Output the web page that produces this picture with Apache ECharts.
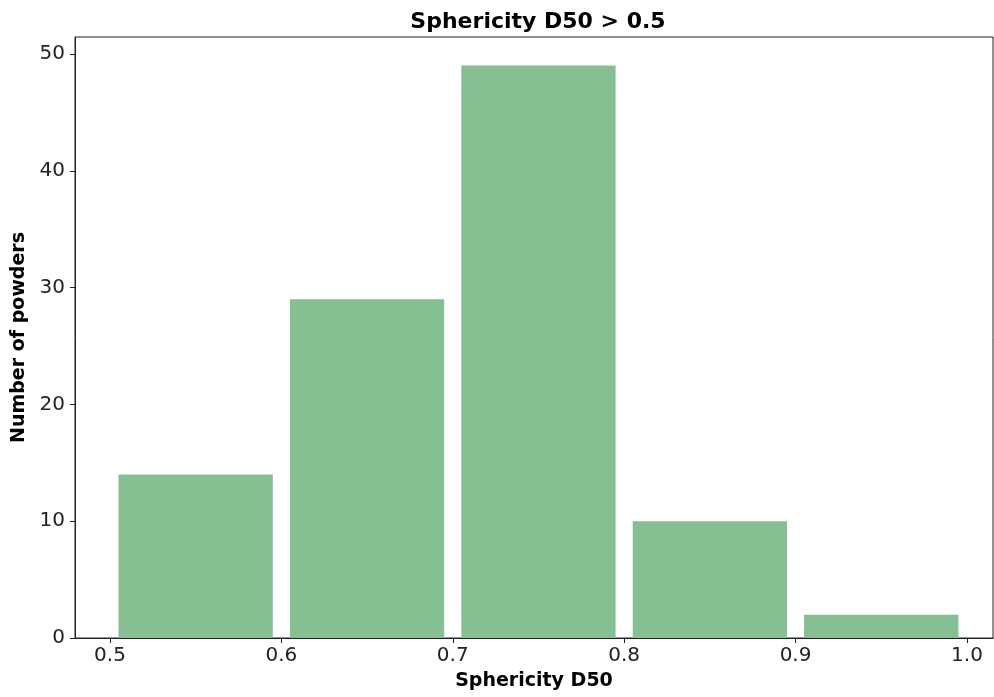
<!DOCTYPE html>
<html>
<head>
<meta charset="utf-8">
<script src="https://cdn.jsdelivr.net/npm/echarts@6/dist/echarts.min.js"></script>
<style>
  html, body { margin: 0; padding: 0; background: #fff; }
  #chart { width: 994px; height: 697px; }
</style>
</head>
<body>
<div id="chart"></div>
<script>
// Histogram of sphericity D50 (bins of width 0.1), counts per bin
const binStarts = [0.5, 0.6, 0.7, 0.8, 0.9];
const binWidth = 0.1;
const counts = [14, 29, 49, 10, 2];
const xTicks = [0.5, 0.6, 0.7, 0.8, 0.9, 1.0];
const yTicks = [0, 10, 20, 30, 40, 50];
const relWidth = 0.9;

const font = 'DejaVu Sans, sans-serif';
const barColor = '#86bf91';

const chart = echarts.init(document.getElementById('chart'));

const data = binStarts.map((s, i) => [s, s + binWidth, counts[i]]);

chart.setOption({
  animation: false,
  backgroundColor: '#fff',
  title: {
    text: 'Sphericity D50 > 0.5',
    left: 533,
    textAlign: 'center',
    top: 6,
    textStyle: { fontFamily: font, fontWeight: 'bold', fontSize: 22, color: '#000' }
  },
  grid: {
    left: 75, right: 1, top: 37, bottom: 59,
    show: true, borderColor: '#222', borderWidth: 1, backgroundColor: 'transparent'
  },
  xAxis: {
    type: 'value',
    min: 0.4796,
    max: 1.0152,
    name: 'Sphericity D50',
    nameLocation: 'middle',
    nameGap: 34,
    nameTextStyle: { fontFamily: font, fontWeight: 'bold', fontSize: 19, color: '#000' },
    splitLine: { show: false },
    axisLine: { show: true, lineStyle: { color: '#222', width: 1 } },
    axisTick: { show: true, length: 5, lineStyle: { color: '#222' }, customValues: xTicks },
    axisLabel: {
      customValues: xTicks,
      formatter: v => v.toFixed(1),
      fontFamily: font, fontSize: 20, color: '#222', margin: 8
    }
  },
  yAxis: {
    type: 'value',
    min: 0,
    max: 51.45,
    name: 'Number of powders',
    nameLocation: 'middle',
    nameGap: 43,
    nameTextStyle: { fontFamily: font, fontWeight: 'bold', fontSize: 19, color: '#000' },
    splitLine: { show: false },
    axisLine: { show: true, lineStyle: { color: '#222', width: 1 } },
    axisTick: { show: true, length: 5, lineStyle: { color: '#222' }, customValues: yTicks },
    axisLabel: {
      customValues: yTicks,
      fontFamily: font, fontSize: 20, color: '#222', margin: 10
    }
  },
  series: [{
    type: 'custom',
    data: data,
    encode: { x: [0, 1], y: 2 },
    renderItem: function (params, api) {
      const s = api.value(0), e = api.value(1), h = api.value(2);
      const pad = (e - s) * (1 - relWidth) / 2;
      const p0 = api.coord([s + pad, h]);
      const p1 = api.coord([e - pad, 0]);
      return {
        type: 'rect',
        shape: { x: p0[0], y: p0[1], width: p1[0] - p0[0], height: p1[1] - p0[1] },
        style: { fill: barColor }
      };
    }
  }]
});
</script>
</body>
</html>
